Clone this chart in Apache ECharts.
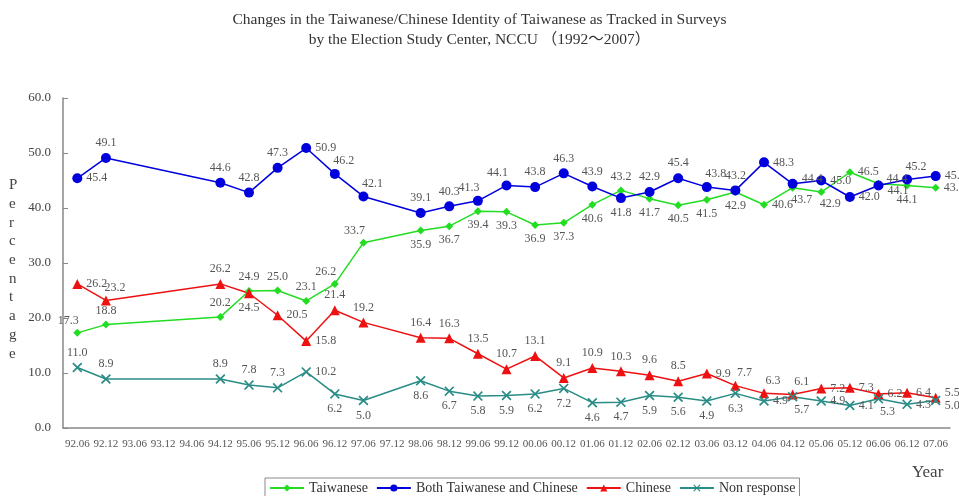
<!DOCTYPE html>
<html><head><meta charset="utf-8">
<script src="https://cdn.jsdelivr.net/npm/echarts@6/dist/echarts.min.js"></script>
<style>html,body{margin:0;padding:0;background:#fff}#c{width:959px;height:496px}</style>
</head><body><div id="c"></div>
<script>
const categories = ['92.06','92.12','93.06','93.12','94.06','94.12','95.06','95.12','96.06','96.12','97.06','97.12','98.06','98.12','99.06','99.12','00.06','00.12','01.06','01.12','02.06','02.12','03.06','03.12','04.06','04.12','05.06','05.12','06.06','06.12','07.06'];
const taiwanese = [17.3,18.8,null,null,null,20.2,24.9,25.0,23.1,26.2,33.7,null,35.9,36.7,39.4,39.3,36.9,37.3,40.6,43.2,41.7,40.5,41.5,42.9,40.6,43.7,42.9,46.5,44.4,44.1,43.7];
const both = [45.4,49.1,null,null,null,44.6,42.8,47.3,50.9,46.2,42.1,null,39.1,40.3,41.3,44.1,43.8,46.3,43.9,41.8,42.9,45.4,43.8,43.2,48.3,44.4,45.0,42.0,44.1,45.2,45.8];
const chinese = [26.2,23.2,null,null,null,26.2,24.5,20.5,15.8,21.4,19.2,null,16.4,16.3,13.5,10.7,13.1,9.1,10.9,10.3,9.6,8.5,9.9,7.7,6.3,6.1,7.2,7.3,6.2,6.4,5.5];
const nonResponse = [11.0,8.9,null,null,null,8.9,7.8,7.3,10.2,6.2,5.0,null,8.6,6.7,5.8,5.9,6.2,7.2,4.6,4.7,5.9,5.6,4.9,6.3,4.9,5.7,4.9,4.1,5.3,4.3,5.0];
const seriesNames = ['Taiwanese','Both Taiwanese and Chinese','Chinese','Non response'];
const yTicks = [0,10,20,30,40,50,60];

// label placement codes (layout only)
const posT = ['tl','t',null,null,null,'t','t','t','t','tl','tl',null,'b','b','b','b','b','b','b','t','b','b','b','b','r','br','br','r','ru','b','r'];
const posB = ['r','t',null,null,null,'t','t','t','r','tr','tr',null,'t','t','tl','tl','t','t','t','b','t','t','tr','t','r','ru','r','r','rd','tr','r'];
const posC = ['r','tr',null,null,null,'t','b','r','r','t','t',null,'t','t','t','t','t','t','t','t','t','t','r','tr','tr','tr','r','r','r','r','ru'];
const posN = ['t','t',null,null,null,'t','t','t','r','b','b',null,'b','b','b','b','b','b','b','b','b','b','b','b','r','br','r','r','br','r','rd'];

const SERIF = '"Liberation Serif","Times New Roman","DejaVu Serif",serif';

function lab(code){
  const m = {
    t:{position:'top',offset:[0,0]}, b:{position:'bottom',offset:[0,0]},
    r:{position:'right',offset:[0,0]}, l:{position:'left',offset:[0,0]},
    tr:{position:'top',offset:[9,2]}, tl:{position:'top',offset:[-9,2]},
    br:{position:'bottom',offset:[9,-2]}, bl:{position:'bottom',offset:[-9,-2]},
    ru:{position:'right',offset:[0,-5]}, rd:{position:'right',offset:[0,5]}
  };
  return m[code] || m.t;
}
function build(vals, pos){
  return vals.map((v,i)=> v==null ? '-' : ({value:v, label:Object.assign({show:true}, lab(pos[i]))}));
}
const xPath = 'path://M0,1.2L1.2,0L5,3.8L8.8,0L10,1.2L6.2,5L10,8.8L8.8,10L5,6.2L1.2,10L0,8.8L3.8,5Z';
const colors = ['#22dd22','#0000dd','#ee1111','#2a8c86'];
const symbols = ['diamond','circle','triangle',xPath];
const sizes = [8,10,10,10];
const dataSets = [taiwanese,both,chinese,nonResponse];
const posSets = [posT,posB,posC,posN];

const series = seriesNames.map((n,k)=>({
  name:n, type:'line', connectNulls:true,
  data: build(dataSets[k], posSets[k]),
  symbol: symbols[k], symbolSize: sizes[k], showAllSymbol:true,
  lineStyle:{color:colors[k], width:1.5},
  itemStyle:{color:colors[k]},
  label:{show:true, color:'#555', fontFamily:SERIF, fontSize:12, distance:4,
    formatter:p=>Number(p.value).toFixed(1)},
  emphasis:{disabled:true}, animation:false
}));

const chart = echarts.init(document.getElementById('c'));
chart.setOption({
  animation:false,
  backgroundColor:'#fff',
  title:{text:'Changes in the Taiwanese/Chinese Identity of Taiwanese as Tracked in Surveys\nby the Election Study Center, NCCU \uff081992\uff5e2007\uff09',
    left:'center', top:5, textStyle:{fontFamily:SERIF+',"Noto Sans CJK SC"', fontSize:15.5, fontWeight:'normal', color:'#333', lineHeight:20}},
  legend:{data:seriesNames, left:265, top:478, orient:'horizontal', itemWidth:34, itemHeight:9, itemGap:8,
    borderColor:'#888', borderWidth:1, padding:[3,4,10,4], selectedMode:false,
    textStyle:{fontFamily:SERIF, fontSize:14, color:'#333'}},
  grid:{left:63, right:9, top:98, bottom:68, containLabel:false},
  xAxis:{type:'category', data:categories, boundaryGap:true,
    axisLine:{lineStyle:{color:'#888', width:1.5}},
    axisTick:{inside:true, length:5, lineStyle:{color:'#888'}},
    axisLabel:{fontFamily:SERIF, fontSize:11, color:'#555', margin:11, interval:0},
    splitLine:{show:false}},
  yAxis:{type:'value', min:yTicks[0], max:yTicks[yTicks.length-1], interval:10,
    axisLine:{show:true, lineStyle:{color:'#888', width:1.5}},
    axisTick:{show:true, inside:true, length:5, lineStyle:{color:'#888'}},
    axisLabel:{fontFamily:SERIF, fontSize:13, color:'#444', margin:12, formatter:v=>v.toFixed(1)},
    splitLine:{show:false}},
  graphic:[
    {type:'text', left:9, top:176, style:{text:'P\ne\nr\nc\ne\nn\nt\na\ng\ne', fontFamily:SERIF, fontSize:15, lineHeight:18.7, fill:'#444', align:'center'}},
    {type:'text', left:912, top:464, style:{text:'Year', fontFamily:SERIF, fontSize:17, fill:'#444'}}
  ],
  series: series
});
</script></body></html>
